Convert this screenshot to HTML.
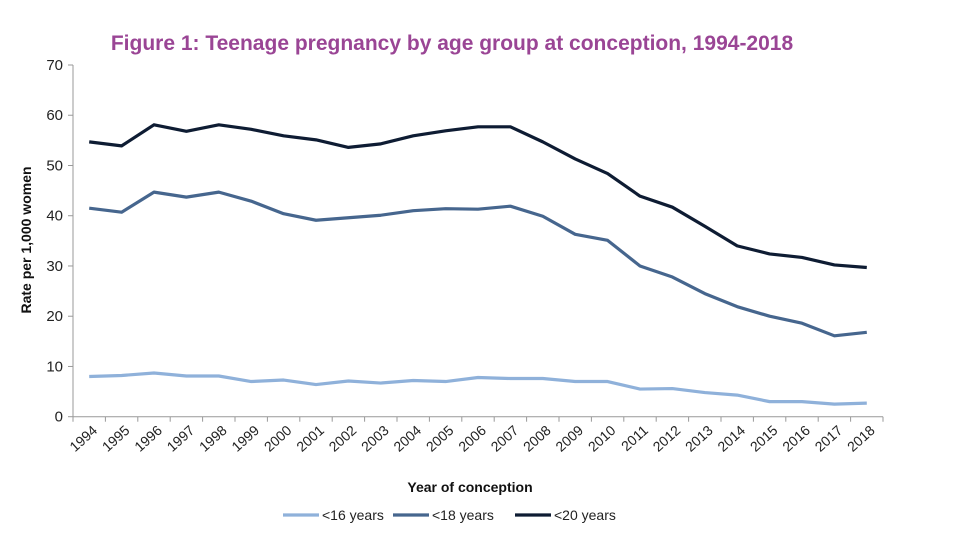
<!DOCTYPE html>
<html><head><meta charset="utf-8"><style>
body{margin:0;background:#fff;}
svg{display:block;font-family:"Liberation Sans",Arial,sans-serif;}
</style></head><body>
<svg id="chart" width="960" height="540">
<text x="452" y="50" text-anchor="middle" font-size="21" font-weight="bold" fill="#9a4595">Figure 1: Teenage pregnancy by age group at conception, 1994-2018</text>
<g id="axes"></g>
<g id="series"></g>
<text x="470" y="492" text-anchor="middle" font-size="14" font-weight="bold" fill="#111">Year of conception</text>
<text transform="translate(31,240) rotate(-90)" text-anchor="middle" font-size="14" font-weight="bold" fill="#111">Rate per 1,000 women</text>
<g id="legend"></g>
</svg>
<script>
const years=["1994","1995","1996","1997","1998","1999","2000","2001","2002","2003","2004","2005","2006","2007","2008","2009","2010","2011","2012","2013","2014","2015","2016","2017","2018"];
const under16=[8.0,8.2,8.7,8.1,8.1,7.0,7.3,6.4,7.1,6.7,7.2,7.0,7.8,7.6,7.6,7.0,7.0,5.5,5.6,4.8,4.3,3.0,3.0,2.5,2.7];
const under18=[41.5,40.7,44.7,43.7,44.7,42.9,40.4,39.1,39.6,40.1,41.0,41.4,41.3,41.9,39.9,36.3,35.1,30.0,27.8,24.5,21.9,20.0,18.6,16.1,16.8];
const under20=[54.7,53.9,58.1,56.8,58.1,57.2,55.9,55.1,53.6,54.3,55.9,56.9,57.7,57.7,54.7,51.3,48.4,43.9,41.7,37.9,34.0,32.4,31.7,30.2,29.7];
const yTicks=[0,10,20,30,40,50,60,70];
const seriesNames=["<16 years","<18 years","<20 years"];
const NS="http://www.w3.org/2000/svg";
const x0=73,x1=883,y0=416.7,yMax=70,yTop=65;
const band=(x1-x0)/years.length;
const xs=i=>x0+band*(i+0.5);
const ys=v=>y0-(v/yMax)*(y0-yTop);
function mk(t,a,p){const e=document.createElementNS(NS,t);for(const k in a)e.setAttribute(k,a[k]);p.appendChild(e);return e;}
const ax=document.getElementById('axes');
const ya=mk('line',{x1:x0,y1:yTop,x2:x0,y2:y0,stroke:'#999','stroke-width':1},ax);


const xa=mk('line',{x1:x0,y1:y0,x2:x1,y2:y0,stroke:'#999','stroke-width':1},ax);


yTicks.forEach(v=>{
  mk('line',{x1:x0-5,y1:ys(v),x2:x0,y2:ys(v),stroke:'#999'},ax);
  const t=mk('text',{x:x0-10,y:ys(v)+5,'text-anchor':'end','font-size':15,fill:'#222'},ax);
  t.textContent=v;
  
  
});
for(let i=0;i<=years.length;i++){mk('line',{x1:x0+band*i,y1:y0,x2:x0+band*i,y2:y0+5,stroke:'#999'},ax);}
years.forEach((y,i)=>{
  const t=mk('text',{x:0,y:0,'text-anchor':'end','font-size':14,fill:'#222',transform:`translate(${xs(i)+9},${y0+15}) rotate(-42)`},ax);
  t.textContent=y;
  
  
});
const colors=["#8fb1da","#46668e","#0e1c33"];
const data=[under16,under18,under20];
const sg=document.getElementById('series');
data.forEach((arr,k)=>{
  const p=mk('polyline',{points:arr.map((v,i)=>xs(i)+','+ys(v)).join(' '),fill:'none',stroke:colors[k],'stroke-width':3.2,'stroke-linejoin':'round'},sg);
  
  
});
const lg=document.getElementById('legend');
const lx=[283,393,515];
seriesNames.forEach((n,k)=>{
  const g=mk('g',{},lg);
  
  
  mk('line',{x1:lx[k],y1:515,x2:lx[k]+36,y2:515,stroke:colors[k],'stroke-width':3.2},g);
  const t=mk('text',{x:lx[k]+39,y:520,'font-size':14,fill:'#222'},g);
  t.textContent=n;
});
</script>
</body></html>
